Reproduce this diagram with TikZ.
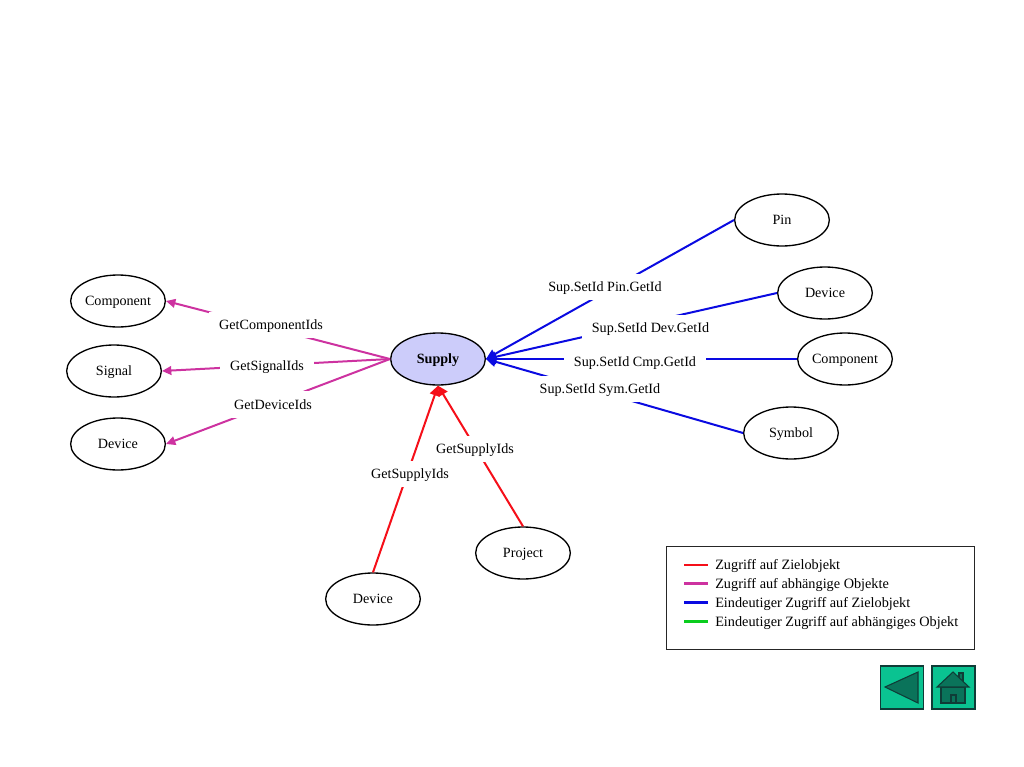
\documentclass[tikz,border=0pt]{standalone}
\usepackage{fontspec}
\setmainfont{Liberation Serif}
\usetikzlibrary{arrows.meta,shapes.geometric}
\definecolor{linkred}{RGB}{245,15,25}
\definecolor{linkmag}{RGB}{205,50,160}
\definecolor{linkblue}{RGB}{10,10,225}
\definecolor{linkgreen}{RGB}{10,205,30}
\definecolor{supplyfill}{RGB}{204,204,250}
\definecolor{btnfill}{RGB}{10,195,145}
\definecolor{btndark}{RGB}{10,115,90}
\definecolor{btnline}{RGB}{15,60,55}
\tikzset{
  obj/.style={draw,ellipse,fill=white,line width=1pt,minimum width=71pt,minimum height=39pt,inner sep=0pt,text height=7pt,text depth=0pt,font=\fontsize{10.6}{12}\selectfont},
  lbl/.style={fill=white,inner xsep=7.5pt,inner ysep=6.5pt,text height=7pt,text depth=0pt,font=\fontsize{10.6}{12}\selectfont},
  redlink/.style={draw=linkred,fill=linkred,line width=1.5pt,-{Triangle[length=7.5pt,width=7.5pt]}},
  maglink/.style={draw=linkmag,fill=linkmag,line width=1.5pt,-{Triangle[length=7pt,width=6.5pt]}},
  bluelink/.style={draw=linkblue,fill=linkblue,line width=1.5pt,-{Triangle[length=7.5pt,width=7.5pt]}},
  legtext/.style={anchor=west,inner sep=0pt,text height=7pt,text depth=0pt,font=\fontsize{10.7}{12}\selectfont},
  btn/.style={draw=btnline,fill=btnfill,line width=0.8pt},
  btnmark/.style={draw=btnline,fill=btndark,line width=0.8pt}
}
\begin{document}
\begin{tikzpicture}[x=0.75pt,y=-0.75pt]
  \useasboundingbox (0,0) rectangle (1024,767);

  \node[obj,fill=supplyfill,font=\fontsize{10.6}{12}\selectfont\bfseries] (supply) at (438,359) {Supply};
  \node[obj] (compL) at (118,301) {Component};
  \node[obj] (signal) at (114,371) {Signal};
  \node[obj] (devL) at (118,444) {Device};
  \node[obj] (pin) at (782,220) {Pin};
  \node[obj] (devR) at (825,293) {Device};
  \node[obj] (compR) at (845,359) {Component};
  \node[obj] (symbol) at (791,433) {Symbol};
  \node[obj] (project) at (523,553) {Project};
  \node[obj] (devB) at (373,599) {Device};

  % links first, the labels then cover them
  \draw[maglink] (supply.west) -- (compL.east);
  \draw[maglink] (supply.west) -- (signal.east);
  \draw[maglink] (supply.west) -- (devL.east);
  \draw[bluelink] (pin.west) -- (supply.east);
  \draw[bluelink] (devR.west) -- (supply.east);
  \draw[bluelink] (compR.west) -- (supply.east);
  \draw[bluelink] (symbol.west) -- (supply.east);
  \draw[redlink] (devB.north) -- (supply.south);
  \draw[redlink] (project.north) -- (supply.south);

  \node[lbl] (lblcomp) at (271,325) {GetComponentIds};
  \node[lbl] (lblsig) at (267,365.5) {GetSignalIds};
  \node[lbl] (lbldev) at (273,404.5) {GetDeviceIds};
  \node[lbl] (lblpin) at (605,287) {Sup.SetId Pin.GetId};
  \node[lbl] (lbldevr) at (650.5,328) {Sup.SetId Dev.GetId};
  \node[lbl] (lblcmp) at (635,362) {Sup.SetId Cmp.GetId};
  \node[lbl] (lblsym) at (600,389) {Sup.SetId Sym.GetId};
  \node[lbl] (lblsupa) at (475,449) {GetSupplyIds};
  \node[lbl] (lblsupb) at (410,474) {GetSupplyIds};

  % legend
  \draw[line width=0.75pt,draw=black!85,fill=white] (666,546) rectangle (974,649);
  \foreach \i/\y/\col/\txt in {1/565/linkred/Zugriff auf Zielobjekt,2/583.5/linkmag/Zugriff auf abhängige Objekte,3/602.5/linkblue/Eindeutiger Zugriff auf Zielobjekt,4/621.5/linkgreen/Eindeutiger Zugriff auf abhängiges Objekt}{
    \coordinate (a\i) at (684,\y);
    \coordinate (b\i) at (708,\y);
    \draw[\col,line width=2.2pt] (a\i) -- (b\i);
    \node[legtext] (leg\i) at (715,\y) {\txt};
  }

  % buttons
  \draw[btn] (880.5,666) rectangle (923.5,709);
  \draw[btnmark] (918,672) -- (918,703) -- (885,687) -- cycle;
  \draw[btn] (932,666) rectangle (975,709);
  \draw[btnmark] (959,673) rectangle (963,684);
  \draw[btnmark] (941,687) rectangle (965,703);
  \draw[btnmark] (937,687) -- (953,672) -- (969,687) -- cycle;
  \draw[btnmark] (951,695) rectangle (956,703);
\end{tikzpicture}
\end{document}
